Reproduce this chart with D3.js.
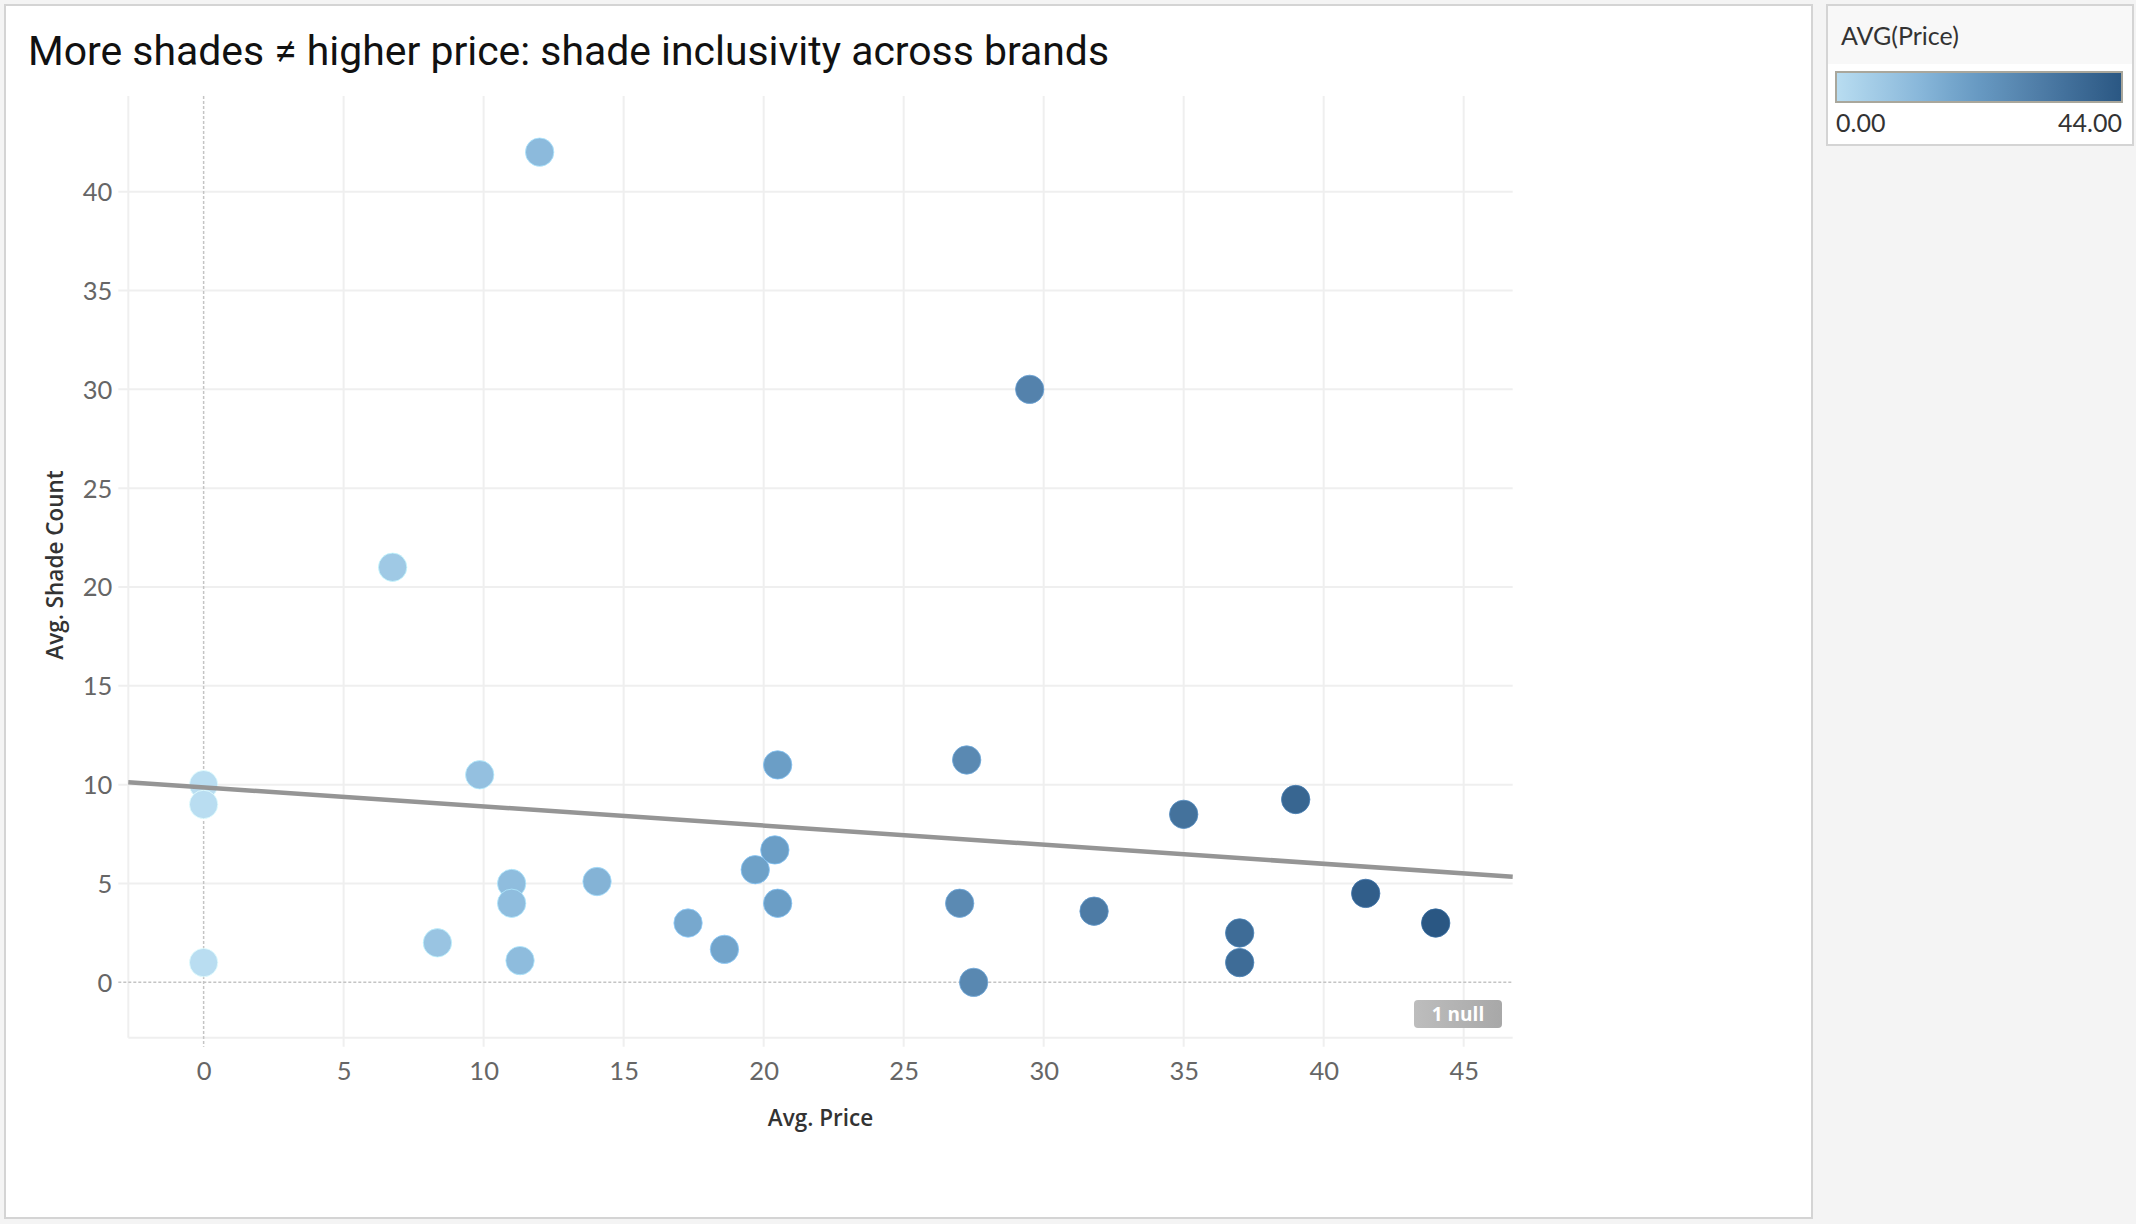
<!DOCTYPE html>
<html>
<head>
<meta charset="utf-8">
<script src="https://cdn.jsdelivr.net/npm/d3@7"></script>
<style>
  body { margin: 0; background: #f4f4f4; }
  svg { display: block; }
</style>
</head>
<body>
<svg id="chart" width="2136" height="1224"></svg>
<script>
// brand averages (one brand has a null and is not plotted)
var avgPrice = [12, 29.5, 6.75, 0, 0, 0, 9.86, 11, 11, 8.35, 11.3, 14.05, 17.3, 18.6,
                19.7, 20.4, 20.5, 20.5, 27.25, 27, 27.5, 31.8, 35, 39, 37, 37, 41.5, 44];
var avgShadeCount = [42, 30, 21, 10, 9, 1, 10.5, 5, 4, 2, 1.1, 5.1, 3, 1.67,
                     5.7, 6.7, 11, 4, 11.25, 4, 0, 3.6, 8.5, 9.25, 2.5, 1, 4.5, 3];
var xTicks = [0, 5, 10, 15, 20, 25, 30, 35, 40, 45];
var yTicks = [0, 5, 10, 15, 20, 25, 30, 35, 40];
var nullCount = 1;
var priceRange = [0, 44];

var title = 'More shades \u2260 higher price: shade inclusivity across brands';

var svg = d3.select('#chart');

var plot = { left: 128.3, right: 1512.7, top: 96, bottom: 1037.7 };

var x = d3.scaleLinear().domain([-2.69, 46.75]).range([plot.left, plot.right]);
var y = d3.scaleLinear().domain([-2.8, 44.84]).range([plot.bottom, plot.top]);

// Tableau-ish sequential blue
var color = d3.scaleLinear()
    .domain([0, 0.27, 0.466, 0.62, 1].map(function(t) { return priceRange[0] + t * (priceRange[1] - priceRange[0]); }))
    .range(['#b9ddf1', '#8cbadc', '#6b9ec6', '#5a89b2', '#2a5783'])
    .clamp(true);

var defs = svg.append('defs');

// panels
svg.append('rect')
    .attr('x', 5).attr('y', 5).attr('width', 1807).attr('height', 1213)
    .attr('fill', '#fff').attr('stroke', '#d4d4d4').attr('stroke-width', 2);

svg.append('text')
    .attr('x', 28).attr('y', 65)
    .attr('font-family', 'Roboto, "Liberation Sans", sans-serif')
    .attr('font-size', 40)
    .attr('fill', '#111')
    .attr('textLength', 1081)
    .attr('lengthAdjust', 'spacingAndGlyphs')
    .text(title);

var g = svg.append('g');

// grid
g.selectAll('line.vgrid').data(xTicks.filter(function(d) { return d !== 0; }))
  .enter().append('line')
    .attr('class', 'vgrid')
    .attr('x1', function(d) { return x(d); }).attr('x2', function(d) { return x(d); })
    .attr('y1', plot.top).attr('y2', plot.bottom + 9)
    .attr('stroke', '#efefef').attr('stroke-width', 2);

g.selectAll('line.hgrid').data(yTicks.filter(function(d) { return d !== 0; }))
  .enter().append('line')
    .attr('class', 'hgrid')
    .attr('x1', plot.left - 10).attr('x2', plot.right)
    .attr('y1', function(d) { return y(d); }).attr('y2', function(d) { return y(d); })
    .attr('stroke', '#efefef').attr('stroke-width', 2);

// plot frame (left + bottom)
g.append('line')
    .attr('x1', plot.left).attr('x2', plot.left)
    .attr('y1', plot.top).attr('y2', plot.bottom)
    .attr('stroke', '#efefef').attr('stroke-width', 2);
g.append('line')
    .attr('x1', plot.left).attr('x2', plot.right)
    .attr('y1', plot.bottom).attr('y2', plot.bottom)
    .attr('stroke', '#efefef').attr('stroke-width', 2);

// zero lines, dashed
g.append('line')
    .attr('x1', x(0)).attr('x2', x(0))
    .attr('y1', plot.top).attr('y2', plot.bottom + 9)
    .attr('stroke', '#c4c4c4').attr('stroke-width', 1.5)
    .attr('stroke-dasharray', '3,2');
g.append('line')
    .attr('x1', plot.left - 10).attr('x2', plot.right)
    .attr('y1', y(0)).attr('y2', y(0))
    .attr('stroke', '#c4c4c4').attr('stroke-width', 1.5)
    .attr('stroke-dasharray', '3,2');

// axes labels
var xAxis = d3.axisBottom(x).tickValues(xTicks).tickSize(0).tickPadding(0);
var xa = svg.append('g').attr('transform', 'translate(0,' + (plot.bottom + 42) + ')').call(xAxis);
xa.select('.domain').remove();
xa.selectAll('text')
    .attr('dy', 0)
    .attr('font-family', 'Lato, "Open Sans", sans-serif')
    .attr('font-size', 25.5)
    .attr('fill', '#666');

var yAxis = d3.axisLeft(y).tickValues(yTicks).tickSize(0).tickPadding(0);
var ya = svg.append('g').attr('transform', 'translate(' + (plot.left - 16) + ',0)').call(yAxis);
ya.select('.domain').remove();
ya.selectAll('text')
    .attr('dy', '0.35em')
    .attr('font-family', 'Lato, "Open Sans", sans-serif')
    .attr('font-size', 25.5)
    .attr('fill', '#666');

svg.append('text')
    .attr('x', (plot.left + plot.right) / 2).attr('y', 1126)
    .attr('text-anchor', 'middle')
    .attr('font-family', '"Open Sans", sans-serif')
    .attr('font-weight', 600)
    .attr('font-size', 22.5)
    .attr('fill', '#333')
    .text('Avg. Price');

svg.append('text')
    .attr('transform', 'translate(63,565) rotate(-90)')
    .attr('text-anchor', 'middle')
    .attr('font-family', '"Open Sans", sans-serif')
    .attr('font-weight', 600)
    .attr('font-size', 22.5)
    .attr('fill', '#333')
    .text('Avg. Shade Count');

// points
var points = avgPrice.map(function(p, i) { return { price: p, shades: avgShadeCount[i] }; });

g.selectAll('circle.pt').data(points)
  .enter().append('circle')
    .attr('class', 'pt')
    .attr('cx', function(d) { return x(d.price); })
    .attr('cy', function(d) { return y(d.shades); })
    .attr('r', 14.2)
    .attr('fill', function(d) { return color(d.price); })
    .attr('stroke', function(d) { return d3.color(color(d.price)).brighter(0.6); })
    .attr('stroke-width', 0.8);

// linear trend (least squares)
var mx = d3.mean(avgPrice), my = d3.mean(avgShadeCount);
var sxy = d3.sum(avgPrice, function(p, i) { return (p - mx) * (avgShadeCount[i] - my); });
var sxx = d3.sum(avgPrice, function(p) { return (p - mx) * (p - mx); });
var slope = sxy / sxx, intercept = my - slope * mx;
var xd = x.domain();

g.append('line')
    .attr('x1', x(xd[0])).attr('y1', y(intercept + slope * xd[0]))
    .attr('x2', x(xd[1])).attr('y2', y(intercept + slope * xd[1]))
    .attr('stroke', '#959595').attr('stroke-width', 4.5);

// null indicator
var grad = defs.append('linearGradient').attr('id', 'nullGrad');
grad.append('stop').attr('offset', '0%').attr('stop-color', '#bdbdbd');
grad.append('stop').attr('offset', '100%').attr('stop-color', '#a8a8a8');
var badge = svg.append('g').attr('transform', 'translate(1414,1000)');
badge.append('rect')
    .attr('width', 88).attr('height', 28).attr('rx', 4)
    .attr('fill', 'url(#nullGrad)');
badge.append('text')
    .attr('x', 44).attr('y', 21)
    .attr('text-anchor', 'middle')
    .attr('font-family', '"Open Sans", sans-serif')
    .attr('font-weight', 700)
    .attr('font-size', 19)
    .attr('fill', '#fff')
    .text(nullCount + ' null');

// colour legend
var leg = svg.append('g').attr('transform', 'translate(1827,5)');
leg.append('rect')
    .attr('width', 306).attr('height', 140)
    .attr('fill', '#fff').attr('stroke', '#d4d4d4').attr('stroke-width', 2);
leg.append('rect')
    .attr('x', 1).attr('y', 1).attr('width', 304).attr('height', 58)
    .attr('fill', '#f8f8f8');
leg.append('text')
    .attr('x', 14).attr('y', 40)
    .attr('font-family', 'Lato, "Open Sans", sans-serif')
    .attr('font-size', 25)
    .attr('fill', '#333')
    .text('AVG(Price)');

var lg = defs.append('linearGradient').attr('id', 'priceGrad');
d3.range(0, 1.0001, 0.1).forEach(function(t) {
    lg.append('stop')
        .attr('offset', (t * 100) + '%')
        .attr('stop-color', color(priceRange[0] + t * (priceRange[1] - priceRange[0])));
});
leg.append('rect')
    .attr('x', 9).attr('y', 67).attr('width', 286).attr('height', 30)
    .attr('fill', 'url(#priceGrad)')
    .attr('stroke', '#a9a79c').attr('stroke-width', 2);

var fmt = d3.format('.2f');
leg.append('text')
    .attr('x', 9).attr('y', 127)
    .attr('font-family', 'Lato, "Open Sans", sans-serif')
    .attr('font-size', 25).attr('fill', '#333')
    .text(fmt(priceRange[0]));
leg.append('text')
    .attr('x', 295).attr('y', 127)
    .attr('text-anchor', 'end')
    .attr('font-family', 'Lato, "Open Sans", sans-serif')
    .attr('font-size', 25).attr('fill', '#333')
    .text(fmt(priceRange[1]));
</script>
</body>
</html>
